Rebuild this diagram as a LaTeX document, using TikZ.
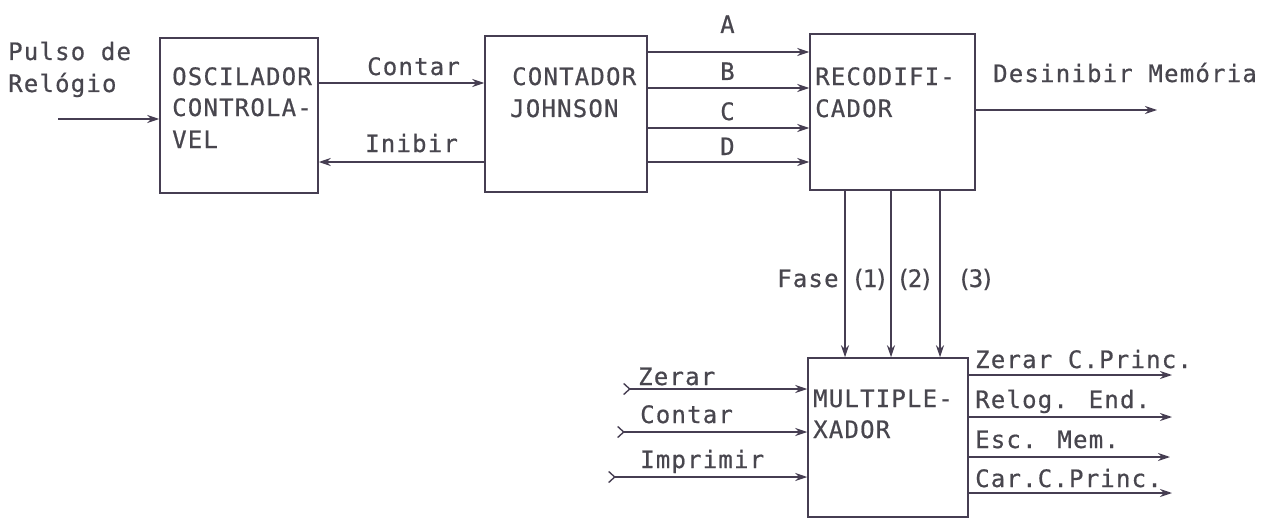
\documentclass[tikz,border=0pt]{standalone}
\usepackage{fontspec}
\usetikzlibrary{arrows.meta}
\newfontfamily\tw[LetterSpace=5,FakeBold=0.6]{DejaVu Sans Mono}
\newfontfamily\twn[LetterSpace=-12,FakeBold=0.6]{DejaVu Sans Mono}
\definecolor{ink}{RGB}{70,62,82}
\definecolor{txt}{RGB}{72,70,78}
\tikzset{
  blk/.style={draw=ink,line width=1.5pt,minimum width=#1,inner sep=0pt},
  lbl/.style={anchor=base west,inner sep=0pt,text=txt,font=\tw\fontsize{24}{31}\selectfont},
  nlbl/.style={anchor=base west,inner sep=0pt,text=txt,font=\twn\fontsize{24}{31}\selectfont},
  sig/.style={draw=ink,line width=1.4pt,-{Stealth[length=12pt,width=8pt]}},
  insig/.style={draw=ink,line width=1.4pt,{Straight Barb[reversed,length=6pt,width=11pt]}-{Stealth[length=12pt,width=8pt]}}
}
\begin{document}
\begin{tikzpicture}[x=1pt,y=-1pt]
\useasboundingbox (0,0) rectangle (1267,519);
% boxes
\node[blk=158pt,minimum height=155pt] (osc) at (239,115.5) {};
\node[blk=162pt,minimum height=156pt] (jon) at (566,114) {};
\node[blk=165pt,minimum height=156pt] (rec) at (892.5,112) {};
\node[blk=160pt,minimum height=159pt] (mux) at (888,437.5) {};
% box texts
\node[lbl] (toscA) at (172,85) {OSCILADOR};
\node[lbl] (toscB) at (172,116) {CONTROLA-};
\node[lbl] (toscC) at (172,148) {VEL};
\node[lbl] (tjonA) at (512,85) {CONTADOR};
\node[lbl] (tjonB) at (510,117) {JOHNSON};
\node[lbl] (trecA) at (815,85) {RECODIFI-};
\node[lbl] (trecB) at (815,117) {CADOR};
\node[lbl] (tmuxA) at (813,407) {MULTIPLE-};
\node[lbl] (tmuxB) at (813,438) {XADOR};
% clock input
\node[lbl] (pulA) at (8,60) {Pulso de};
\node[lbl] (pulB) at (8,92) {Relógio};
\coordinate (pin) at (58,119);
\draw[sig] (pin) -- (pin -| osc.west);
% contar / inibir
\draw[sig] (osc.east |- 0,83) -- (jon.west |- 0,83);
\node[lbl] (lcont) at (367,75) {Contar};
\draw[sig] (jon.west |- 0,162) -- (osc.east |- 0,162);
\node[lbl] (linib) at (365,152) {Inibir};
% A B C D
\foreach \y/\t/\b in {52/A/33,88/B/80,128/C/120,162/D/155}{
  \draw[sig] (jon.east |- 0,\y) -- (rec.west |- 0,\y);
  \node[lbl] (l\t) at (720,\b) {\t};
}
% desinibir
\coordinate (desE) at (1157,110);
\draw[sig] (rec.east |- desE) -- (desE);
\node[lbl] (ldes) at (993,82) {Desinibir Memória};
% phases
\foreach \x in {845,891,940}{
  \draw[sig] (rec.south -| \x,0) -- (mux.north -| \x,0);
}
\node[lbl] (lfase) at (777,287) {Fase};
\node[nlbl] (l1) at (851,287) {(1)};
\node[nlbl] (l2) at (896,287) {(2)};
\node[nlbl] (l3) at (957,287) {(3)};
% mux inputs
\coordinate (iz) at (623,389);
\coordinate (ic) at (617,432);
\coordinate (ii) at (608,477);
\draw[insig] (iz) -- (iz -| mux.west);
\draw[insig] (ic) -- (ic -| mux.west);
\draw[insig] (ii) -- (ii -| mux.west);
\node[lbl] (lz) at (638,385) {Zerar};
\node[lbl] (lc) at (640,423) {Contar};
\node[lbl] (li) at (640,468) {Imprimir};
% mux outputs
\coordinate (o1) at (1172,375);
\coordinate (o2) at (1172,417);
\coordinate (o3) at (1170,457);
\coordinate (o4) at (1172,493);
\draw[sig] (mux.east |- o1) -- (o1);
\draw[sig] (mux.east |- o2) -- (o2);
\draw[sig] (mux.east |- o3) -- (o3);
\draw[sig] (mux.east |- o4) -- (o4);
\node[lbl] (lo1) at (975,368) {Zerar C.Princ.};
\node[lbl] (lo2) at (975,408) {Relog. End.};
\node[lbl] (lo3) at (975,448) {Esc. Mem.};
\node[lbl] (lo4) at (975,487) {Car.C.Princ.};
\end{tikzpicture}
\end{document}
